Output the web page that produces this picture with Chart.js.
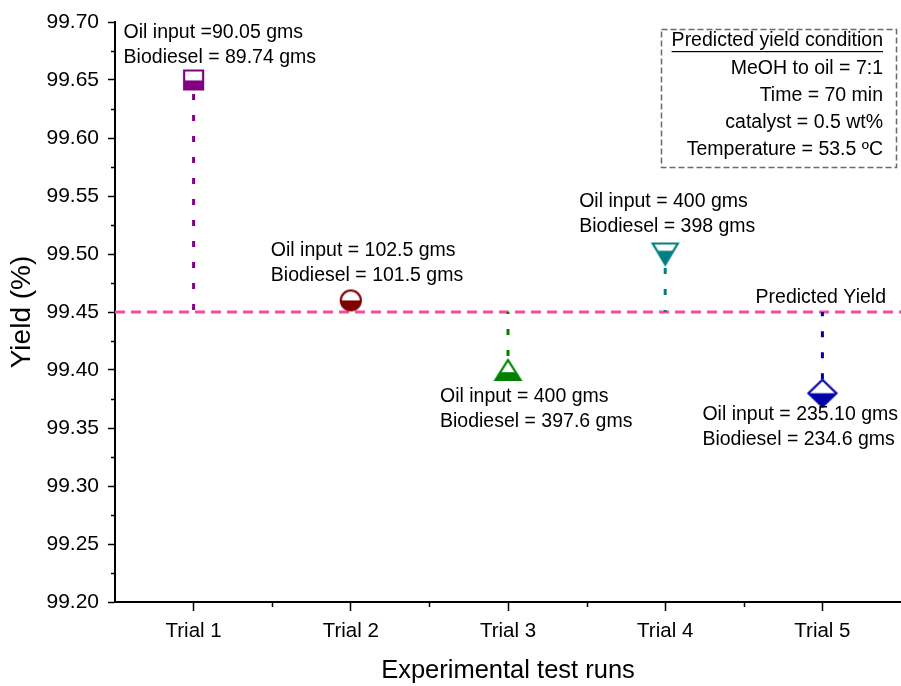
<!DOCTYPE html>
<html>
<head>
<meta charset="utf-8">
<script src="https://cdn.jsdelivr.net/npm/chart.js@4.4.1/dist/chart.umd.min.js"></script>
<style>
  html, body { margin: 0; background: #fff; overflow: hidden; }
  canvas { display: block; }
</style>
</head>
<body>
<canvas id="yieldChart" width="901" height="686"></canvas>
<script>
// trial runs and measured biodiesel yield
const trials = [1, 2, 3, 4, 5];
const trialNames = ['Trial 1', 'Trial 2', 'Trial 3', 'Trial 4', 'Trial 5'];
const yields = [99.65, 99.46, 99.40, 99.50, 99.38];
const predictedYield = 99.45;
const oilInput = ['Oil input =90.05 gms', 'Oil input = 102.5 gms', 'Oil input = 400 gms', 'Oil input = 400 gms', 'Oil input = 235.10 gms'];
const biodiesel = ['Biodiesel = 89.74 gms', 'Biodiesel = 101.5 gms', 'Biodiesel = 397.6 gms', 'Biodiesel = 398 gms', 'Biodiesel = 234.6 gms'];
const conditions = ['MeOH to oil = 7:1', 'Time = 70 min', 'catalyst = 0.5 wt%', 'Temperature = 53.5 \u00baC'];

const colors = ['#800080', '#800000', '#008000', '#008080', '#0000a8'];
const shapes = ['square', 'circle', 'triUp', 'triDown', 'diamond'];
const FONT = '"Liberation Sans", Arial, sans-serif';

// half filled marker drawn on a small canvas, used as pointStyle
function makeMarker(shape, color) {
  const sizes = {square: [21, 21], circle: [22, 22], triUp: [27, 22], triDown: [27, 23], diamond: [30, 29]};
  const fillFrom = {square: 0.52, circle: 0.5, triUp: 0.6, triDown: 0.36, diamond: 0.5};
  const w = sizes[shape][0], h = sizes[shape][1];
  const c = document.createElement('canvas');
  c.width = w + 4; c.height = h + 4;
  const g = c.getContext('2d');
  const x0 = 2, y0 = 2;
  g.beginPath();
  if (shape === 'square') {
    g.rect(x0 + 1, y0 + 1, w - 2, h - 2);
  } else if (shape === 'circle') {
    g.arc(x0 + w / 2, y0 + h / 2, w / 2 - 1, 0, Math.PI * 2);
  } else if (shape === 'triUp') {
    g.moveTo(x0 + w / 2, y0 + 1); g.lineTo(x0 + w - 1, y0 + h - 1); g.lineTo(x0 + 1, y0 + h - 1); g.closePath();
  } else if (shape === 'triDown') {
    g.moveTo(x0 + 1, y0 + 1); g.lineTo(x0 + w - 1, y0 + 1); g.lineTo(x0 + w / 2, y0 + h - 1); g.closePath();
  } else {
    g.moveTo(x0 + w / 2, y0 + 1); g.lineTo(x0 + w - 1, y0 + h / 2); g.lineTo(x0 + w / 2, y0 + h - 1); g.lineTo(x0 + 1, y0 + h / 2); g.closePath();
  }
  g.fillStyle = '#fff';
  g.fill();
  g.save();
  g.clip();
  g.fillStyle = color;
  g.fillRect(0, y0 + h * fillFrom[shape], c.width, c.height);
  g.restore();
  g.lineWidth = 2.2;
  g.strokeStyle = color;
  g.stroke();
  return c;
}

const markers = shapes.map((s, i) => makeMarker(s, colors[i]));

const points = trials.map((t, i) => ({x: t, y: yields[i]}));

// vertical drop line from every trial to the predicted yield
const dropSets = trials.map((t, i) => ({
  type: 'line',
  data: [{x: t, y: yields[i]}, {x: t, y: predictedYield}],
  borderColor: colors[i],
  borderWidth: 3,
  borderDash: [6, 15],
  borderDashOffset: -14,
  pointRadius: 0,
  showLine: true
}));

const labelOffsets = [
  [-70, -47], [-80, -50], [-68, 27], [-86, -52], [-120, 21]
];

const annotate = {
  id: 'annotate',
  afterDatasetsDraw(chart) {
    const ctx = chart.ctx;
    const xs = chart.scales.x, ys = chart.scales.y;
    ctx.save();
    ctx.fillStyle = '#000';
    ctx.font = '19.5px ' + FONT;
    ctx.textBaseline = 'middle';
    ctx.textAlign = 'left';
    trials.forEach((t, i) => {
      const px = xs.getPixelForValue(t) + labelOffsets[i][0];
      const py = ys.getPixelForValue(yields[i]) + labelOffsets[i][1];
      ctx.fillText(oilInput[i], px, py);
      ctx.fillText(biodiesel[i], px, py + 25);
    });

    // predicted yield tag
    ctx.textAlign = 'right';
    ctx.fillText('Predicted Yield', 886, ys.getPixelForValue(predictedYield) - 14);

    // condition box
    ctx.strokeStyle = '#6a6a6a';
    ctx.lineWidth = 1.5;
    ctx.setLineDash([6, 3]);
    ctx.strokeRect(661.5, 29.5, 235, 138);
    ctx.setLineDash([]);
    const head = 'Predicted yield condition';
    ctx.fillText(head, 883, 41);
    const hw = ctx.measureText(head).width;
    ctx.fillRect(883 - hw, 51, hw, 1.2);
    const rows = [69, 96, 123, 150];
    conditions.forEach((s, i) => ctx.fillText(s, 883, rows[i]));

    // minor ticks
    ctx.strokeStyle = '#000';
    ctx.lineWidth = 1.5;
    ctx.beginPath();
    for (let v = 99.225; v < 99.7; v += 0.05) {
      const py = Math.round(ys.getPixelForValue(v)) + 0.5;
      ctx.moveTo(xs.left - 4, py); ctx.lineTo(xs.left, py);
    }
    for (let v = 1.5; v < 5.5; v += 1) {
      const px = Math.round(xs.getPixelForValue(v)) + 0.5;
      ctx.moveTo(px, ys.bottom); ctx.lineTo(px, ys.bottom + 5);
    }
    ctx.stroke();
    ctx.restore();
  }
};

const ctx = document.getElementById('yieldChart').getContext('2d');
new Chart(ctx, {
  type: 'scatter',
  data: {
    datasets: [
      {
        data: points,
        pointStyle: markers,
        pointRadius: 12,
        pointHoverRadius: 12
      },
      ...dropSets,
      {
        type: 'line',
        data: [{x: 0.5, y: predictedYield}, {x: 5.5, y: predictedYield}],
        borderColor: '#f54ea0',
        borderWidth: 3,
        borderDash: [10, 6],
        pointRadius: 0,
        showLine: true
      }
    ]
  },
  options: {
    responsive: false,
    animation: false,
    layout: {autoPadding: false, padding: {top: 22, right: 0, left: 0, bottom: 0}},
    plugins: {legend: {display: false}, tooltip: {enabled: false}},
    scales: {
      x: {
        type: 'linear',
        min: 0.5,
        max: 5.5,
        border: {color: '#000', width: 2},
        grid: {
          drawOnChartArea: false,
          tickLength: 9,
          tickWidth: 1.5,
          tickColor: c => Number.isInteger(c.tick.value) ? '#000' : 'rgba(0,0,0,0)'
        },
        ticks: {
          stepSize: 0.5,
          autoSkip: false,
          maxRotation: 0,
          padding: 8,
          color: '#000',
          font: {family: FONT, size: 20.5},
          callback: v => Number.isInteger(v) ? trialNames[v - 1] : ''
        },
        title: {
          display: true,
          text: 'Experimental test runs',
          color: '#000',
          font: {family: FONT, size: 25.5},
          padding: {top: 0, bottom: 0}
        },
        afterFit: s => { s.height = 84; s.paddingRight = 0; s.paddingLeft = 0; }
      },
      y: {
        min: 99.2,
        max: 99.7,
        border: {color: '#000', width: 2},
        grid: {drawOnChartArea: false, tickLength: 7, tickWidth: 1.5, tickColor: '#000'},
        ticks: {
          stepSize: 0.05,
          maxTicksLimit: 20,
          padding: 9,
          color: '#000',
          font: {family: FONT, size: 21},
          callback: v => v.toFixed(2)
        },
        title: {
          display: true,
          text: 'Yield (%)',
          color: '#000',
          font: {family: FONT, size: 28},
          padding: {top: 5, bottom: 0}
        },
        afterFit: s => { s.width = 115; }
      }
    }
  },
  plugins: [annotate]
});
</script>
</body>
</html>
